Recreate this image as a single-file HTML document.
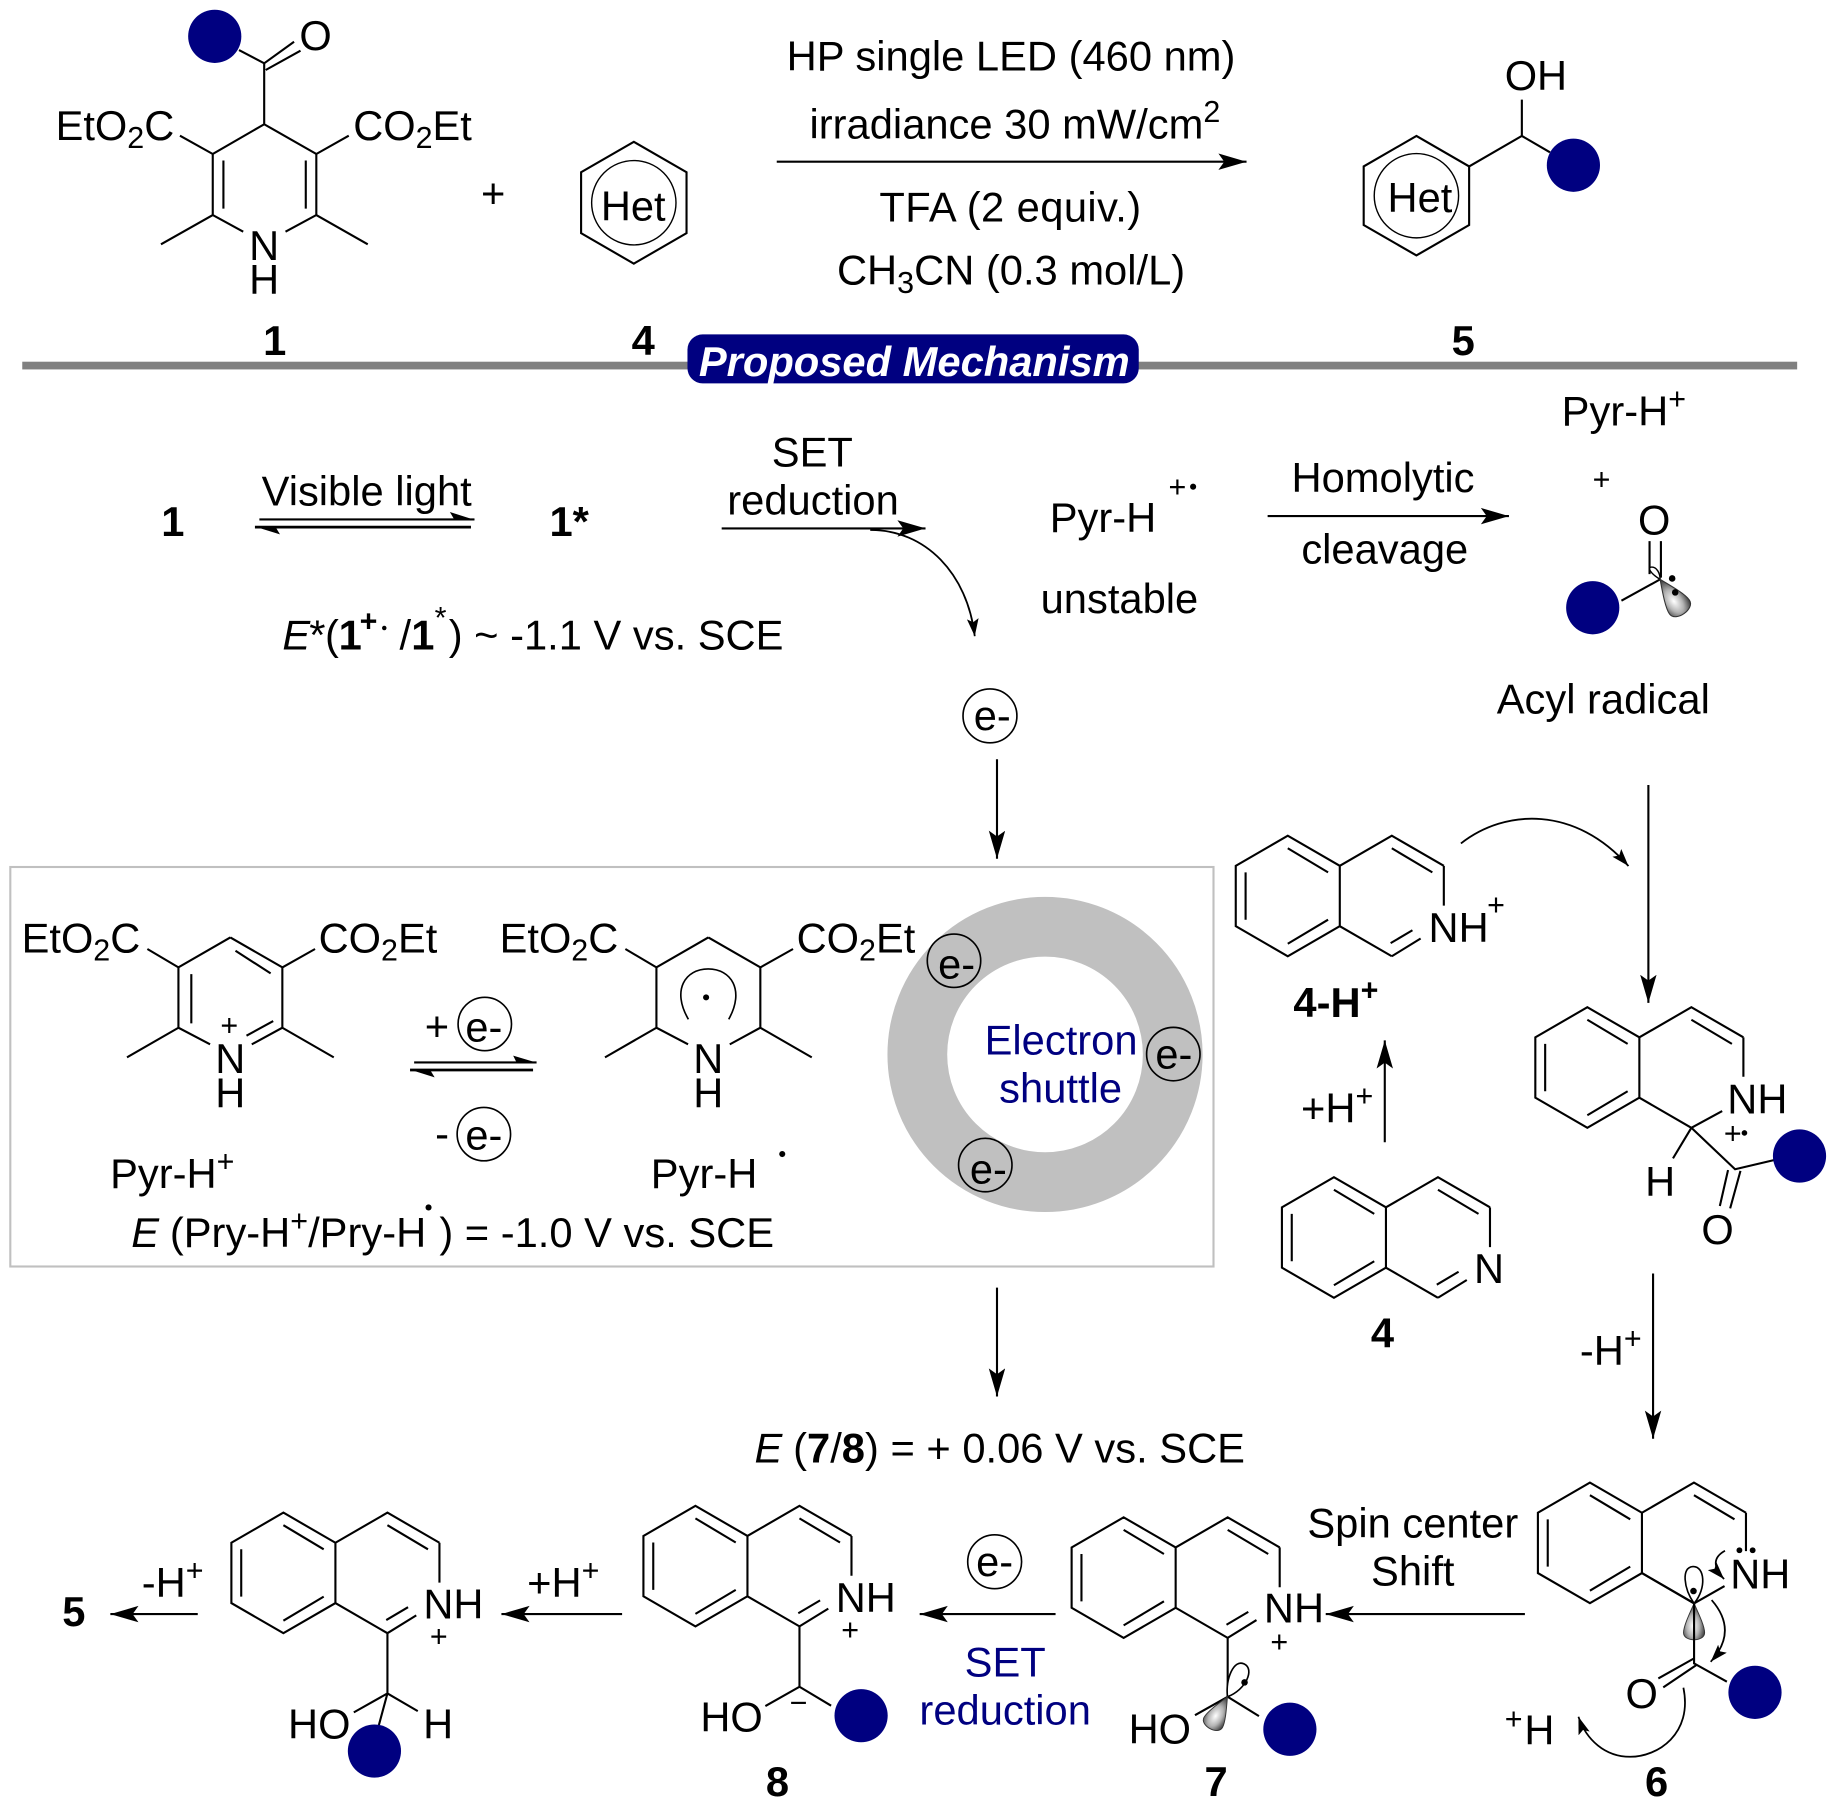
<!DOCTYPE html>
<html><head><meta charset="utf-8"><style>
html,body{margin:0;padding:0;background:#fff}
svg{display:block}
text{font-family:"Liberation Sans",Arial,sans-serif;font-size:35.6px;fill:#000}
.c{font-size:35.5px}
.b{font-weight:bold}
.m{text-anchor:middle}
.s{font-size:26px}
.u{fill:#000080}
.l{fill:none;stroke:#000;stroke-width:1.8}
.a{fill:none;stroke:#000;stroke-width:1.8;marker-end:url(#ah)}
.k{fill:none;stroke:#000;stroke-width:1.5;marker-end:url(#as)}
.d{fill:#000080}
</style></head><body>
<svg width="1837" height="1816" viewBox="0 0 1568 1550" xmlns="http://www.w3.org/2000/svg">
<defs>
<marker id="ah" markerUnits="userSpaceOnUse" markerWidth="26" markerHeight="15" refX="24" refY="7" orient="auto"><path d="M0,0 L24,7 L0,14 L5,7Z"/></marker>
<marker id="as" markerUnits="userSpaceOnUse" markerWidth="18" markerHeight="12" refX="15" refY="5" orient="auto"><path d="M0,0 L15,5 L0,10 L3,5Z"/></marker>
<radialGradient id="lg" cx=".45" cy=".62" r=".6"><stop offset="0" stop-color="#fff"/><stop offset=".5" stop-color="#b4b4b4"/><stop offset="1" stop-color="#333"/></radialGradient>
<path id="iq" d="M0,0 L-44.4,-25.7 L-88.8,0 V51.5 L-44.4,77.2 L0,51.5 Z M0,0 L44.4,-25.7 L88.8,0 M0,51.5 L44.4,77.2 M-44.4,-15 L-10,5.6 M-80.4,5.6 V46 M-44.4,66.5 L-10,46 M44.4,-15 L79,5.6" fill="none" stroke="#000" stroke-width="1.8"/>
<path id="iqn" d="M88.8,0 V34 M44.4,77.2 L69,62 M43.4,66 L62,55" fill="none" stroke="#000" stroke-width="1.8"/>
<path id="lobeG" d="M0,0 C-5,11 -9,20 -9,25 C-9,33 9,33 9,25 C9,20 5,11 0,0Z" fill="url(#lg)" stroke="#333" stroke-width=".8"/>
<path id="lobeW" d="M0,0 C-9,-13 -11,-31 -1,-31.5 C9,-32 11,-13 0,0Z" fill="#fff" stroke="#000" stroke-width="1.4"/>
</defs>

<!-- Compound 1 -->
<circle class="d" cx="183.3" cy="31" r="22.7"/>
<path class="l" d="M204,42.7 L225.5,54 L251,35.6 M226.8,59.7 L256.5,43.2 M225.5,54 V106 L181.6,131.4 V183.5 L207.6,197.7 M225.5,106 L270,131.4 V183.5 L243.7,197.7 M190.7,137 V178 M261,137 V178 M181.6,183.5 L137.4,208.5 M270,183.5 L313.9,208.5 M181.6,131.4 L153.6,115.8 M270,131.4 L297.7,115.8"/>
<text class="c m" x="269.3" y="42.7">O</text>
<text class="c" x="47.5" y="119.5">EtO<tspan class="s" dy="7">2</tspan><tspan dy="-7">C</tspan></text>
<text class="c" x="301.5" y="119.5">CO<tspan class="s" dy="7">2</tspan><tspan dy="-7">Et</tspan></text>
<text class="c m" x="225.5" y="222">N</text>
<text class="c m" x="225.5" y="251">H</text>
<text class="b m" x="234.5" y="303">1</text>
<text class="m" x="421" y="177">+</text>

<!-- 4 generic -->
<path class="l" d="M541,121 L586,147 V199 L541,225 L496,199 V147Z"/>
<circle class="l" cx="541" cy="173" r="36" style="stroke-width:1.2"/>
<text class="c m" x="540.5" y="188">Het</text>
<text class="b m" x="549" y="303">4</text>

<!-- main arrow text -->
<path class="a" d="M663,138 H1064"/>
<text class="m" x="863" y="60">HP single LED (460 nm)</text>
<text x="691" y="118">irradiance 30 mW/cm<tspan class="s" dy="-14">2</tspan></text>
<text class="m" x="862.5" y="189" style="letter-spacing:.35px">TFA (2 equiv.)</text>
<text class="m" x="863" y="243">CH<tspan class="s" dy="7">3</tspan><tspan dy="-7">CN (0.3 mol/L)</tspan></text>

<!-- 5 product -->
<path class="l" d="M1209,116 L1254,142 V192 L1209,218 L1164,192 V142Z M1254,142 L1299,116 V85 M1299,116 L1323,130"/>
<circle class="l" cx="1209" cy="167" r="36" style="stroke-width:1.2"/>
<text class="c m" x="1212" y="181">Het</text>
<text class="c m" x="1311" y="77">OH</text>
<circle class="d" cx="1343" cy="141" r="22.7"/>
<text class="b m" x="1249" y="303">5</text>

<!-- divider -->
<rect x="19" y="308.7" width="1515" height="6.6" fill="#808080"/>
<rect x="586.8" y="285.4" width="385.2" height="41.8" rx="13" fill="#000080"/>
<text class="b" x="596.5" y="321" style="font-style:italic;font-size:35.6px;fill:#fff">Proposed Mechanism</text>

<!-- row 2 -->
<text class="b m" x="147.5" y="457.5">1</text>
<text class="m" x="313" y="431.6">Visible light</text>
<path class="l" d="M221.4,443.3 H405"/>
<path d="M405.4,443.8 L384,437 L388,443.8Z"/>
<path class="l" d="M217.6,449.9 H402" style="stroke-width:2.4"/>
<path d="M217.6,449.5 L239,456.1 L235,449.5Z"/>
<text class="b" x="469" y="457.5">1*</text>
<text x="241" y="554.3" style="font-style:italic">E</text>
<text x="264" y="554.3">*</text>
<text x="277.4" y="554.3">(</text>
<text class="b" x="289" y="554.3">1</text>
<text class="b s" x="307" y="539">+</text>
<circle cx="328" cy="536" r="1.9"/>
<text x="341" y="554.3">/</text>
<text class="b" x="351" y="554.3">1</text>
<text class="s" x="371" y="536">*</text>
<text x="383" y="554.3">) ~ -1.1 V vs. SCE</text>

<text class="m" x="693.4" y="398">SET</text>
<text class="m" x="694" y="439">reduction</text>
<path class="a" d="M616,451 H790"/>
<path class="k" d="M742.8,452.4 C790,452 826,490 832,543"/>
<text x="896" y="454">Pyr-H</text>
<text class="s m" x="1005" y="424">+</text>
<circle cx="1018.4" cy="415.4" r="2.6"/>
<text class="m" x="955.5" y="523">unstable</text>
<path class="a" d="M1082,440.5 H1288"/>
<text class="m" x="1180.5" y="420">Homolytic</text>
<text class="m" x="1182" y="481">cleavage</text>
<text x="1333" y="363">Pyr-H<tspan class="s" dy="-14">+</tspan></text>
<text class="s m" x="1367" y="418">+</text>
<text class="c m" x="1412" y="456">O</text>
<path class="l" d="M1408,461.8 V490 M1417.7,461.8 V493 M1384,512.7 L1417,494.5"/>
<path d="M1417,494.5 C1408,489 1406,484 1410,484 C1414,484 1417,489 1417,494.5Z" fill="#fff" stroke="#000" stroke-width="1.2"/>
<use href="#lobeG" transform="translate(1417,494.5) rotate(-35) scale(1.15)"/>
<circle cx="1427.3" cy="493.7" r="2.8"/><circle cx="1429.9" cy="505.6" r="2.8"/>
<circle class="d" cx="1359.5" cy="518.7" r="22.7"/>
<text class="m" x="1368.5" y="609">Acyl radical</text>

<!-- e- -->
<circle class="l" cx="845" cy="611" r="23" style="stroke-width:1.4"/>
<text class="c m" x="847" y="623">e-</text>
<path class="a" d="M851,648 V733"/>

<!-- box -->
<rect x="8.8" y="740" width="1027" height="341" fill="none" stroke="#c0c0c0" stroke-width="1.8"/>
<path class="l" d="M196.6,800.1 L152.3,825.7 V877.2 L179.3,891.4 M196.6,800.1 L241,825.7 V877.2 L214.9,891.4 M163.3,831.4 V873.5 M201,811.5 L231,830.8 M210.4,884 L233.2,871.5 M152.3,877.2 L108.4,902.5 M241,877.2 L284.9,902.5 M152.3,825.7 L125.8,810 M241,825.7 L268.9,810"/>
<text class="c" x="18.5" y="813">EtO<tspan class="s" dy="7">2</tspan><tspan dy="-7">C</tspan></text>
<text class="c" x="272" y="813">CO<tspan class="s" dy="7">2</tspan><tspan dy="-7">Et</tspan></text>
<text class="s m" x="195.7" y="884">+</text>
<text class="c m" x="196.6" y="916">N</text>
<text class="c m" x="196.6" y="945.5">H</text>
<path class="l" d="M604.6,800.1 L560.3,825.7 V877.2 L587.3,891.4 M604.6,800.1 L649,825.7 V877.2 L622.9,891.4 M560.3,877.2 L516.4,902.5 M649,877.2 L692.9,902.5 M560.3,825.7 L533.8,810 M649,825.7 L676.9,810"/>
<path class="l" style="stroke-width:1.4" d="M587.6,870 C573,845 585,827 604.5,827 C624,827 636,845 622,870"/>
<circle cx="602.7" cy="851.3" r="2.6"/>
<text class="c" x="426.5" y="813">EtO<tspan class="s" dy="7">2</tspan><tspan dy="-7">C</tspan></text>
<text class="c" x="680" y="813">CO<tspan class="s" dy="7">2</tspan><tspan dy="-7">Et</tspan></text>
<text class="c m" x="604.6" y="916">N</text>
<text class="c m" x="604.6" y="945.5">H</text>

<text class="m" x="373" y="888">+</text>
<circle class="l" cx="413.8" cy="874" r="22.8" style="stroke-width:1.4"/>
<text class="c m" x="413" y="889">e-</text>
<path class="l" d="M353.5,906.8 H458"/>
<path d="M458,907 L438,901 L441,907Z"/>
<path class="l" d="M350,913.3 H455" style="stroke-width:2.4"/>
<path d="M350,913 L371,919.6 L367,913Z"/>
<text class="m" x="377.3" y="980">-</text>
<circle class="l" cx="413" cy="968" r="22.8" style="stroke-width:1.4"/>
<text class="c m" x="413" y="981">e-</text>

<text x="94" y="1014">Pyr-H<tspan class="s" dy="-14">+</tspan></text>
<text x="555.5" y="1014">Pyr-H</text>
<circle cx="667.7" cy="985" r="2.6"/>
<text x="112" y="1064.5" style="font-style:italic">E</text>
<text x="145" y="1064.5">(Pry-H<tspan class="s" dy="-14">+</tspan><tspan dy="14">/Pry-H</tspan></text>
<circle cx="365.8" cy="1030.6" r="2.6"/>
<text x="375" y="1064.5">) = -1.0 V vs. SCE</text>

<!-- ring -->
<circle cx="892" cy="900" r="109" fill="none" stroke="#c0c0c0" stroke-width="51"/>
<g class="l" style="stroke-width:1.4">
<circle cx="814.3" cy="820" r="22.8"/><circle cx="1001.5" cy="899.7" r="22.8"/><circle cx="841" cy="994.4" r="22.8"/>
</g>
<text class="c m" x="816.6" y="835">e-</text>
<text class="c m" x="1002" y="912">e-</text>
<text class="c m" x="843.6" y="1010">e-</text>
<text class="m u" x="905.7" y="900">Electron</text>
<text class="m u" x="905.3" y="941">shuttle</text>

<path class="a" d="M851,1099 V1192"/>
<text x="644" y="1248.5" style="font-style:italic">E</text>
<text x="677" y="1248.5">(<tspan class="b">7</tspan>/<tspan class="b">8</tspan>) = + 0.06 V vs. SCE</text>

<!-- 4-H+ -->
<use href="#iq" x="1143.6" y="739"/><use href="#iqn" x="1143.6" y="739"/>
<text class="c m" x="1245" y="804">NH</text>
<text class="s m" x="1277" y="781">+</text>
<text class="b" x="1104" y="868">4-H<tspan class="s" dy="-14" style="font-weight:bold">+</tspan></text>
<path class="a" d="M1182,975 V888"/>
<text x="1110.5" y="958">+H<tspan class="s" dy="-14">+</tspan></text>
<!-- 4 -->
<use href="#iq" x="1183" y="1030.5"/><use href="#iqn" x="1183" y="1030.5"/>
<text class="c m" x="1271" y="1095">N</text>
<text class="b m" x="1180" y="1150">4</text>
<path class="k" d="M1247,719.9 C1285,690 1345,688 1390,739.2" style="stroke-width:1.6"/>

<!-- right intermediate -->
<path class="a" d="M1407,670 V856"/>
<use href="#iq" x="1399.3" y="885.4"/>
<path class="l" d="M1488.1,885.4 V919 M1443.7,962.6 L1470,948.3 M1443.7,962.6 L1428,988.7 M1443.7,962.6 L1481,998 L1515,990 M1475,998.7 L1468,1029.4 M1485.6,999.4 L1476.8,1031.4"/>
<text class="c m" x="1500" y="950.5">NH</text>
<text class="s m" x="1479" y="976">+</text>
<circle cx="1489" cy="967" r="2.4"/>
<text class="c m" x="1417" y="1021">H</text>
<text class="c m" x="1466" y="1062">O</text>
<circle class="d" cx="1536" cy="986.7" r="22.7"/>

<path class="a" d="M1411,1087 V1228"/>
<text x="1348.5" y="1165">-H<tspan class="s" dy="-14">+</tspan></text>

<!-- 6 -->
<use href="#iq" x="1401.5" y="1291.2"/>
<path class="l" d="M1490.3,1291.2 V1324 M1401.5,1342.7 L1446,1368.6 L1472,1353.8 M1446,1368.6 V1419.8 L1474,1435.4 M1446,1415.5 L1415.5,1432.6 M1447.7,1421.4 L1419.7,1440.3"/>
<use href="#lobeW" transform="translate(1446,1368.6)"/>
<use href="#lobeG" transform="translate(1446,1368.6)"/>
<path d="M1446,1368.6 V1400" stroke="#000" stroke-width="1.8" fill="none"/>
<circle cx="1445.5" cy="1358" r="2.8"/>
<circle cx="1484.7" cy="1323.2" r="2.5"/><circle cx="1496" cy="1323.2" r="2.5"/>
<text class="c m" x="1502.5" y="1356">NH</text>
<path class="k" d="M1472.4,1323.6 Q1457,1332 1471.6,1347.8"/>
<path class="k" d="M1461,1365.7 Q1484,1392 1460.2,1418.4"/>
<path class="k" d="M1436.9,1440.5 C1445,1480 1415,1499.5 1391.4,1499.5 C1370,1499.5 1354,1485 1347.3,1465.3"/>
<text class="c m" x="1401.3" y="1458">O</text>
<circle class="d" cx="1498" cy="1444.5" r="22.7"/>
<text class="s m" x="1292" y="1476">+</text>
<text class="c m" x="1314" y="1489">H</text>
<text class="b m" x="1414" y="1533">6</text>

<path class="a" d="M1301.6,1377.7 H1131.6"/>
<text class="m" x="1205.9" y="1312.5">Spin center</text>
<text class="m" x="1205.9" y="1353.5">Shift</text>

<!-- 7 -->
<use href="#iq" x="1003.5" y="1320.8"/><use href="#iqn" x="1003.5" y="1320.8"/>
<path class="l" d="M1047.9,1398 V1448.3 L1074.6,1464.8 M1047.9,1448.3 L1020,1464"/>
<use href="#lobeW" transform="translate(1047.7,1448.3) rotate(29)"/>
<use href="#lobeG" transform="translate(1047.7,1448.3) rotate(29)"/>
<circle cx="1062.3" cy="1436" r="2.8"/>
<text class="c m" x="1104.5" y="1385">NH</text>
<text class="s m" x="1092" y="1410">+</text>
<text class="c m" x="990" y="1488">HO</text>
<circle class="d" cx="1101" cy="1476" r="22.7"/>
<text class="b m" x="1038" y="1533">7</text>

<path class="a" d="M901,1377.7 H785"/>
<circle class="l" cx="849" cy="1333" r="23" style="stroke-width:1.4"/>
<text class="c m" x="849" y="1345">e-</text>
<text class="m u" x="858" y="1431">SET</text>
<text class="m u" x="858" y="1472">reduction</text>

<!-- 8 -->
<use href="#iq" x="638" y="1311"/><use href="#iqn" x="638" y="1311"/>
<path class="l" d="M682.4,1388.2 V1439.7 L653.3,1456.2 M682.4,1439.7 L709.4,1455.9"/>
<text class="c m" x="739" y="1376">NH</text>
<text class="s m" x="725.7" y="1400">+</text>
<text class="s m" x="681.6" y="1462">−</text>
<text class="c m" x="624.4" y="1478">HO</text>
<circle class="d" cx="735" cy="1464.4" r="22.7"/>
<text class="b m" x="663.6" y="1533">8</text>

<path class="a" d="M531,1377.7 H428"/>
<text x="450" y="1363">+H<tspan class="s" dy="-14">+</tspan></text>

<!-- last -->
<use href="#iq" x="286.3" y="1316.8"/><use href="#iqn" x="286.3" y="1316.8"/>
<path class="l" d="M330.7,1394 V1445.4 L302,1461.6 M330.7,1445.4 L356.6,1460.5 M330.7,1445.4 L323.4,1472.4"/>
<text class="c m" x="387" y="1381.5">NH</text>
<text class="s m" x="374.5" y="1405.5">+</text>
<text class="c m" x="272.5" y="1484">HO</text>
<text class="c m" x="374" y="1484">H</text>
<circle class="d" cx="319.6" cy="1494.6" r="22.7"/>

<path class="a" d="M168.8,1377.7 H94.2"/>
<text x="121" y="1363">-H<tspan class="s" dy="-14">+</tspan></text>
<text class="b m" x="63" y="1388">5</text>
</svg>
</body></html>
